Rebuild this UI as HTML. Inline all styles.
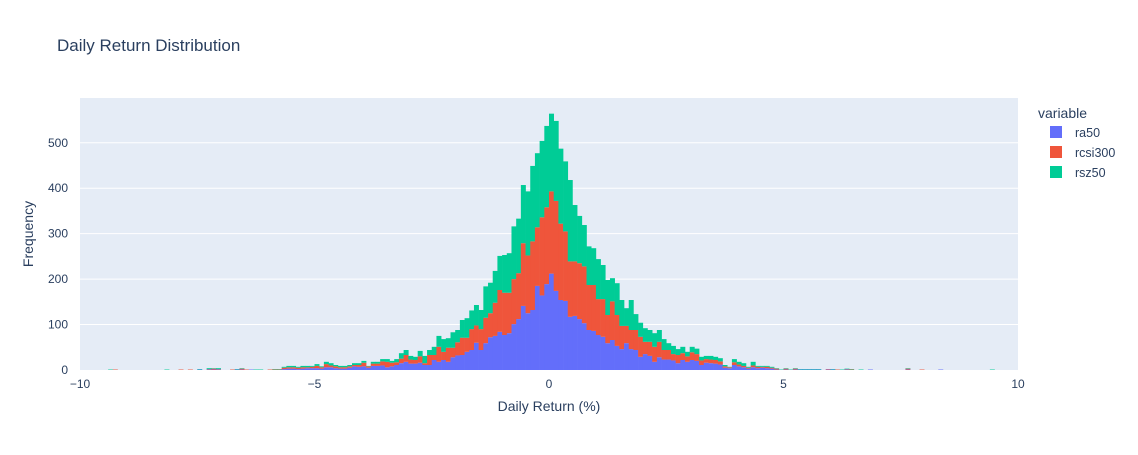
<!DOCTYPE html>
<html><head><meta charset="utf-8"><style>
body{margin:0;background:#fff;font-family:"Liberation Sans",Arial,sans-serif}
svg text{font-family:"Liberation Sans",Arial,sans-serif}
</style></head><body>
<svg id="chart" width="1138" height="450">
<rect width="1138" height="450" fill="#fff"/>
<text x="57" y="51" font-size="17" fill="#2a3f5f">Daily Return Distribution</text>
<rect x="80" y="98" width="938" height="272" fill="#e5ecf6"/>
<g id="grid"></g><g id="bars"></g><g id="axes"></g>
<text x="549" y="411" font-size="14" fill="#2a3f5f" text-anchor="middle">Daily Return (%)</text>
<text transform="translate(33,234) rotate(-90)" font-size="14" fill="#2a3f5f" text-anchor="middle">Frequency</text>
<g>
<text x="1038" y="118" font-size="14" fill="#2a3f5f">variable</text>
<g><rect x="1050" y="126" width="12" height="12" fill="#636efa"/><text x="1075" y="137" font-size="12.5" fill="#2a3f5f">ra50</text></g>
<g><rect x="1050" y="146" width="12" height="12" fill="#EF553B"/><text x="1075" y="157" font-size="12.5" fill="#2a3f5f">rcsi300</text></g>
<g><rect x="1050" y="166" width="12" height="12" fill="#00cc96"/><text x="1075" y="177" font-size="12.5" fill="#2a3f5f">rsz50</text></g>
</g>
</svg>
<script>
const binStart=[-9.4,-9.3,-8.2,-7.9,-7.7,-7.5,-7.3,-7.2,-7.1,-6.8,-6.7,-6.6,-6.5,-6.4,-6.3,-6.2,-6.0,-5.9,-5.8,-5.7,-5.6,-5.5,-5.4,-5.3,-5.2,-5.1,-5.0,-4.9,-4.8,-4.7,-4.6,-4.5,-4.4,-4.3,-4.2,-4.1,-4.0,-3.9,-3.8,-3.7,-3.6,-3.5,-3.4,-3.3,-3.2,-3.1,-3.0,-2.9,-2.8,
-2.7,-2.6,-2.5,-2.4,-2.3,-2.2,-2.1,-2.0,-1.9,-1.8,-1.7,-1.6,-1.5,-1.4,-1.3,-1.2,-1.1,-1.0,-0.9,-0.8,-0.7,-0.6,-0.5,-0.4,-0.3,-0.2,-0.1,
0.0,0.1,0.2,0.3,0.4,0.5,0.6,0.7,0.8,0.9,1.0,1.1,1.2,1.3,1.4,1.5,1.6,1.7,1.8,1.9,2.0,2.1,2.2,2.3,2.4,2.5,2.6,2.7,
2.8,2.9,3.0,3.1,3.2,3.3,3.4,3.5,3.6,3.7,3.8,3.9,4.0,4.1,4.2,4.3,4.4,4.5,4.6,4.7,4.8,4.9,5.0,5.1,5.2,5.3,5.4,5.5,5.6,5.7,5.9,6.0,6.1,6.2,6.3,6.4,6.6,6.8,7.6,7.9,8.3,9.4];
const ra50=[0,0,0,0,0,1,1,1,1,0,1,1,0,1,0,0,0,0,0,2,3,3,2,3,4,4,4,3,6,6,4,3,3,5,8,7,8,5,9,9,10,6,8,11,15,18,14,14,16,
11,11,22,18,22,18,28,32,33,40,44,60,44,59,72,75,84,77,81,101,112,141,125,132,185,164,189,
212,174,154,152,117,119,112,103,88,86,77,73,59,66,53,46,59,46,44,29,35,31,18,28,23,23,21,15,
22,18,22,20,11,16,15,14,12,5,4,11,8,6,3,6,4,5,4,3,1,0,1,0,1,1,1,1,1,1,1,1,0,0,1,0,0,1,1,0,1,0];
const rcsi300=[0,1,0,1,1,0,1,2,1,1,0,2,1,0,0,0,1,1,1,3,3,3,3,3,2,3,5,3,7,4,4,3,3,3,3,4,8,3,5,5,9,12,8,6,10,15,9,8,14,
4,22,11,33,18,31,21,29,38,31,46,38,46,56,53,73,92,93,89,99,101,138,127,151,129,172,169,
181,198,168,153,122,120,123,125,99,101,79,83,62,85,68,51,38,42,44,44,27,31,33,34,21,21,14,18,
15,12,17,15,10,8,8,8,7,3,2,6,4,3,2,4,3,2,3,2,2,0,2,0,2,0,0,0,0,0,1,0,1,0,1,1,0,0,2,1,0,0];
const rsz50=[1,0,1,0,0,1,2,1,2,0,1,1,0,0,1,1,0,1,1,2,3,3,2,3,3,2,4,2,5,5,3,3,3,3,4,4,4,1,4,4,5,6,4,7,12,11,8,7,12,
16,11,18,24,28,21,34,27,39,43,41,45,42,69,67,70,75,83,87,116,120,128,141,166,163,168,179,
171,176,165,154,179,124,104,91,85,81,88,75,77,51,70,57,39,66,35,31,30,26,30,26,24,15,18,13,
14,10,12,12,8,7,8,7,7,3,1,7,6,6,2,8,2,2,2,2,1,1,1,1,1,1,1,1,1,1,0,1,0,1,1,1,1,0,1,0,0,1];
const xTicks=[-10,-5,0,5,10];
const yTicks=[0,100,200,300,400,500];
const binW=0.1;
const X0=80,X1=1018,Y0=370,Y1=98;
const xs=v=>X0+(v+10)/20*(X1-X0);
const ys=v=>Y0-v*0.4545;
const NS='http://www.w3.org/2000/svg';
const grid=document.getElementById('grid'),bars=document.getElementById('bars'),axes=document.getElementById('axes');
function mk(tag,attrs,parent){const e=document.createElementNS(NS,tag);for(const k in attrs)e.setAttribute(k,attrs[k]);parent.appendChild(e);return e;}
yTicks.forEach(t=>{
  if(t>0){const l=mk('line',{x1:X0,x2:X1,y1:ys(t),y2:ys(t),stroke:'#fff','stroke-width':1},grid);
  
  }
  const tx=mk('text',{x:68,y:ys(t)+4,'font-size':12,fill:'#2a3f5f','text-anchor':'end'},axes);
  tx.textContent=t;
  
  
});
xTicks.forEach(t=>{
  const tx=mk('text',{x:xs(t),y:388,'font-size':12,fill:'#2a3f5f','text-anchor':'middle'},axes);
  tx.textContent=t<0?'\u2212'+Math.abs(t):t;
  
  
});
const series=[[ra50,'#636efa','ra50'],[rcsi300,'#EF553B','rcsi300'],[rsz50,'#00cc96','rsz50']];
binStart.forEach((b,i)=>{
  let base=0;
  series.forEach(([arr,col,nm])=>{
    const v=arr[i];
    if(v>0){
      const x=xs(b),w=xs(b+binW)-x;
      const r=mk('rect',{x:x,y:ys(base+v),width:w+0.3,height:ys(base)-ys(base+v),fill:col},bars);
      
      
    }
    base+=v;
  });
});
const zl=mk('line',{x1:X0,x2:X1,y1:Y0+0.5,y2:Y0+0.5,stroke:'#fff','stroke-width':1},axes);


</script>
</body></html>
